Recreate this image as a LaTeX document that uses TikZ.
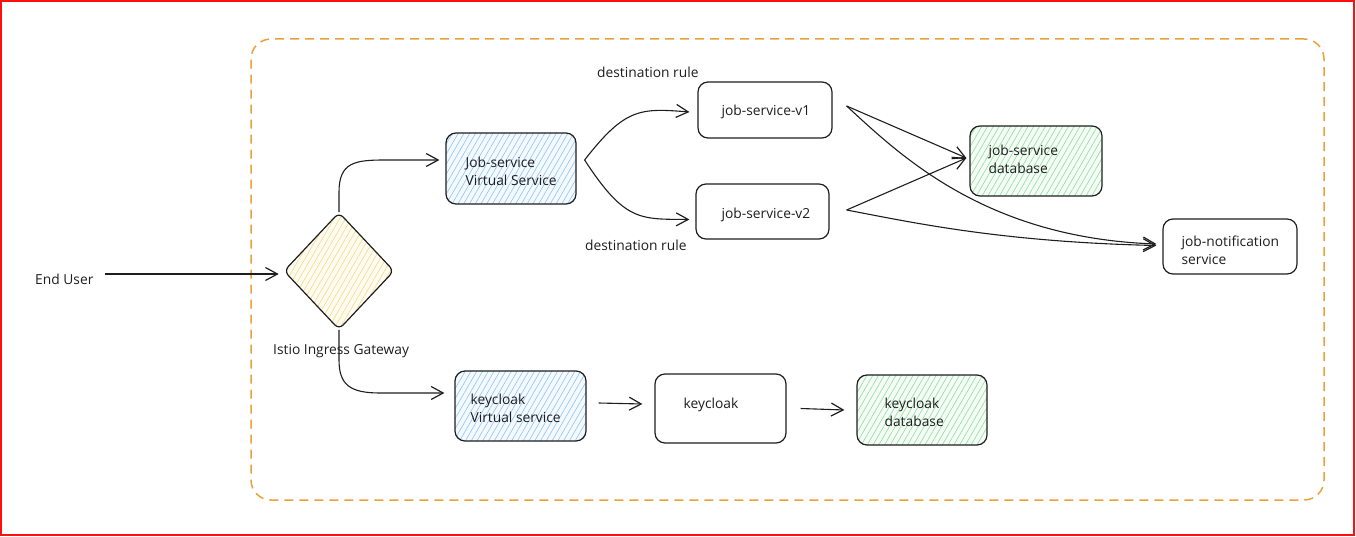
\documentclass[tikz,border=0pt]{standalone}
\usepackage{fontspec}
\setmainfont{Open Sans}
\usetikzlibrary{arrows.meta,shapes.geometric,patterns.meta}
\definecolor{ink}{HTML}{1E1E1E}
\definecolor{hblue}{HTML}{8EC5F0}
\definecolor{hgreen}{HTML}{8FDDA0}
\definecolor{hyellow}{HTML}{F2DC80}
\definecolor{frameor}{HTML}{E9A23B}
\definecolor{redline}{HTML}{FF1010}
\begin{document}
\begin{tikzpicture}[x=1pt,y=-1pt,
  box/.style={draw=ink, line width=1.2pt, rounded corners=10pt, inner sep=0pt, fill=white},
  hblu/.style={preaction={fill=hblue!10}, pattern={Lines[angle=60,distance=5pt,line width=0.6pt]}, pattern color=hblue},
  hgrn/.style={preaction={fill=hgreen!10}, pattern={Lines[angle=60,distance=5pt,line width=0.6pt]}, pattern color=hgreen},
  hyel/.style={preaction={fill=hyellow!10}, pattern={Lines[angle=60,distance=5pt,line width=0.6pt]}, pattern color=hyellow},
  txt/.style={font=\fontsize{13.8}{18}\selectfont, text=ink, align=left, inner sep=0pt},
  arr/.style={draw=ink, line width=1.1pt, -{Straight Barb[length=12pt,width=13pt,line width=1.2pt]}},
]
\useasboundingbox (0,0) rectangle (1356,537);
\draw[redline, line width=2pt] (1,1) rectangle (1354,535);

% frame
\node[draw=frameor, line width=1.5pt, dash pattern=on 9pt off 6pt, rounded corners=20pt,
      minimum width=1073pt, minimum height=461pt, inner sep=0pt] (frame) at (787.5,269.5) {};

% gateway
\node[diamond, draw=ink, line width=1.2pt, rounded corners=6pt, minimum width=110pt, minimum height=117pt,
      inner sep=0pt, hyel] (gw) at (339,271) {};
\node[txt, anchor=west] (gwt) at (273,351) {Istio Ingress Gateway};
\node[txt, anchor=west] (eu) at (35,279) {End User};

% boxes
\node[box, hblu, minimum width=130pt, minimum height=71pt] (jvs) at (511,168.5) {};
\node[txt, anchor=west] (jvst) at ([xshift=20pt,yshift=-3pt]jvs.west) {Job-service\\Virtual Service};

\node[box, hblu, minimum width=131pt, minimum height=70pt] (kvs) at (520.5,406) {};
\node[txt, anchor=west] (kvst) at ([xshift=16pt,yshift=-2pt]kvs.west) {keycloak\\Virtual service};

\node[box, minimum width=131pt, minimum height=69pt] (kc) at (720.5,408.5) {};
\node[txt, anchor=west] (kct) at ([xshift=29pt,yshift=4pt]kc.west) {keycloak};

\node[box, hgrn, minimum width=130pt, minimum height=70pt] (kdb) at (922,410) {};
\node[txt, anchor=west] (kdbt) at ([xshift=28pt,yshift=-2pt]kdb.west) {keycloak\\database};

\node[box, minimum width=134pt, minimum height=56pt] (v1) at (765,110) {};
\node[txt, anchor=west] (v1t) at ([xshift=24pt,yshift=-2pt]v1.west) {job-service-v1};

\node[box, minimum width=133pt, minimum height=55pt] (v2) at (762.5,211.5) {};
\node[txt, anchor=west] (v2t) at ([xshift=26pt,yshift=-3pt]v2.west) {job-service-v2};

\node[box, hgrn, minimum width=132pt, minimum height=70pt] (jdb) at (1036,161) {};
\node[txt, anchor=west] (jdbt) at ([xshift=19pt,yshift=2pt]jdb.west) {job-service\\database};

\node[box, minimum width=134pt, minimum height=55pt] (nt) at (1230,246.5) {};
\node[txt, anchor=west] (ntt) at ([xshift=19pt,yshift=-4pt]nt.west) {job-notification\\service};

\node[txt, anchor=west] (dr1) at (597,72) {destination rule};
\node[txt, anchor=west] (dr2) at (585,245) {destination rule};

% connectors
\draw[arr] ([xshift=11pt,yshift=5pt]eu.east) -- ([xshift=-5pt,yshift=-3pt]gw.west);
\draw[arr] (gw.north) -- ++(0,-20) .. controls +(0,-30) and +(-30,0) .. (385,160) -- ([xshift=-6pt,yshift=8.5pt]jvs.west);
\draw[arr] (gw.south) -- ++(0,30) .. controls +(0,25) and +(-30,0) .. (380,393) -- ([xshift=-10pt,yshift=13pt]kvs.west);

\coordinate (br) at ([xshift=8pt,yshift=8.5pt]jvs.east);
\draw[arr] (br) .. controls (625,108) and (640,108) .. ([xshift=-8pt,yshift=-2pt]v1.west);
\draw[arr] (br) .. controls (625,222) and (640,219) .. ([xshift=-6pt,yshift=-8pt]v2.west);

\coordinate (v1o) at ([xshift=14pt,yshift=4pt]v1.east);
\coordinate (v2o) at ([xshift=17pt,yshift=1.5pt]v2.east);
\draw[arr] (v1o) -- ([xshift=-3pt,yshift=3pt]jdb.west);
\draw[arr] (v2o) -- ([xshift=-3pt,yshift=3pt]jdb.west);
\draw[arr] (v1o) .. controls (900,155) and (985,238) .. ([xshift=-6pt,yshift=2.5pt]nt.west);
\draw[arr] (v2o) .. controls (910,222) and (1000,242) .. ([xshift=-6pt,yshift=1pt]nt.west);

\draw[arr] ([xshift=12pt,yshift=3pt]kvs.east) -- ([xshift=-12pt,yshift=4.5pt]kc.west);
\draw[arr] ([xshift=14pt]kc.east) -- ([xshift=-12pt]kdb.west);
\end{tikzpicture}
\end{document}
